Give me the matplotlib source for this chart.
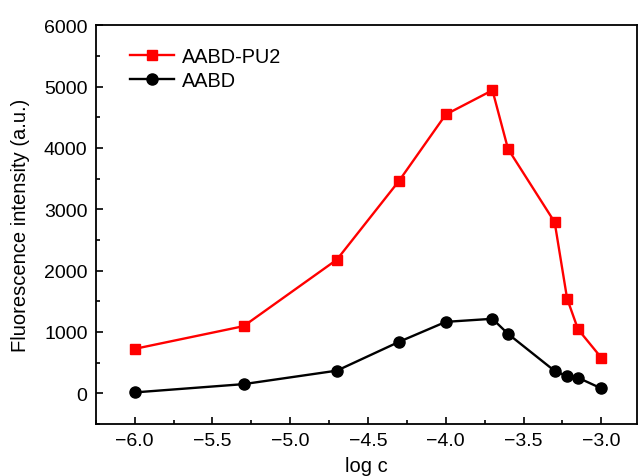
import matplotlib
matplotlib.use("Agg")
import matplotlib.pyplot as plt
from matplotlib.ticker import MultipleLocator

plt.rcParams['font.family'] = ['Liberation Sans', 'DejaVu Sans']
plt.rcParams['axes.unicode_minus'] = True

log_c = [-6.0, -5.3, -4.7, -4.3, -4.0, -3.7, -3.6, -3.3, -3.22, -3.15, -3.0]
aabd_pu2 = [725, 1095, 2180, 3465, 4545, 4940, 3985, 2790, 1545, 1045, 580]
aabd = [15, 150, 370, 840, 1165, 1215, 970, 365, 280, 255, 80]
xtick_labels = ['\u22126.0', '\u22125.5', '\u22125.0', '\u22124.5', '\u22124.0', '\u22123.5', '\u22123.0']

fig = plt.figure(figsize=(6.39, 4.77), dpi=100)
ax = fig.add_axes([0.150, 0.109, 0.847, 0.836])

ax.plot(log_c, aabd_pu2, color='#ff0000', marker='s', markersize=7.5, lw=1.7, label='AABD-PU2')
ax.plot(log_c, aabd, color='black', marker='o', markersize=8, lw=1.7, label='AABD')

ax.set_xlim(-6.25, -2.77)
ax.set_ylim(-500, 6000)
ax.xaxis.set_major_locator(MultipleLocator(0.5))
ax.xaxis.set_minor_locator(MultipleLocator(0.25))
ax.yaxis.set_major_locator(MultipleLocator(1000))
ax.yaxis.set_minor_locator(MultipleLocator(500))
ax.tick_params(which='both', direction='in', labelsize=14, width=1.2, pad=6)
ax.tick_params(which='major', length=5)
ax.tick_params(which='minor', length=3)
ax.set_xticks([-6.0, -5.5, -5.0, -4.5, -4.0, -3.5, -3.0])
ax.set_xticklabels(xtick_labels)
for s in ax.spines.values():
    s.set_linewidth(1.3)

ax.set_xlabel('log c', fontsize=14.5, labelpad=5)
ax.set_ylabel('Fluorescence intensity (a.u.)', fontsize=14.5, labelpad=10)

ax.legend(loc='upper left', bbox_to_anchor=(0.03, 0.99), frameon=False, fontsize=14.3,
          handlelength=2.2, handletextpad=0.4, labelspacing=0.25)

fig.savefig('out.png', dpi=100)
